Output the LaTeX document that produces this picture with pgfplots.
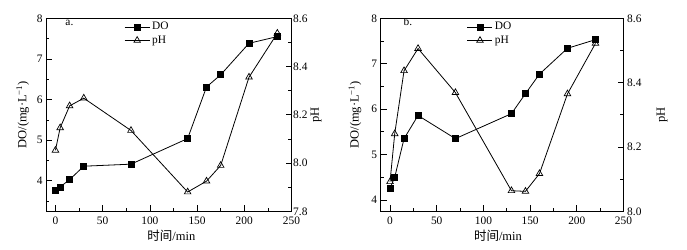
\documentclass[border=0pt]{standalone}
\usepackage{fontspec}
\setmainfont{Liberation Serif}
\newfontfamily\cjk{Noto Sans CJK SC}
\usepackage{pgfplots}
\usepackage{pgfplotstable}
\pgfplotsset{compat=1.18}

\pgfplotstableread{
t v
0 3.755
5 3.85
15 4.03
30 4.36
80 4.41
140 5.04
160 6.31
175 6.61
205 7.385
235 7.55
}\DOa
\pgfplotstableread{
t v
0 8.053
5 8.146
15 8.237
30 8.269
80 8.135
140 7.880
160 7.925
175 7.990
205 8.356
235 8.538
}\pHa
\pgfplotstableread{
t v
0 4.26
5 4.50
15 5.35
30 5.86
70 5.35
130 5.90
145 6.34
160 6.77
190 7.34
220 7.53
}\DOb
\pgfplotstableread{
t v
0 8.092
5 8.241
15 8.437
30 8.506
70 8.369
130 8.064
145 8.062
160 8.117
190 8.365
220 8.522
}\pHb

\newcommand{\fs}{\fontsize{11.4bp}{13bp}\selectfont}
\newcommand{\fl}{\fontsize{12.5bp}{14bp}\selectfont}

\pgfplotsset{
  base/.style={
    scale only axis, height=193bp, anchor=south west,
    xmin=-10, xmax=250,
    tick align=inside, major tick length=6bp, minor tick length=3.5bp,
    every tick/.style={black, line width=0.7pt},
    axis line style={line width=0.9pt},
    tick label style={font=\fs},
    xticklabel style={yshift=-2bp},
    label style={font=\fl},
    /pgf/number format/assume math mode=true,
  },
  dostyle/.style={black, line width=0.8pt, mark=square*, mark size=3bp, mark options={solid, fill=black}},
  phstyle/.style={black, line width=0.8pt, mark=triangle, mark size=3.8bp, mark options={solid, fill=white, line width=0.7pt}},
  legstyle/.style={
    legend cell align=left,
    legend style={draw=none, fill=none, inner sep=0pt, font=\fs, anchor=north west,
      row sep=0.5bp, /tikz/every even column/.append style={column sep=2bp}},
    legend image code/.code={\draw[mark repeat=2,mark phase=2,##1] plot coordinates {(0bp,0bp)(12.5bp,0bp)(25bp,0bp)};},
  },
}

\begin{document}
\begin{tikzpicture}
\useasboundingbox (0,0) rectangle (687bp,250bp);

% ---------- panel a ----------
\begin{axis}[base, width=245.5bp, at={(46bp,38.7bp)},
  ymin=3.25, ymax=8, ytick={4,5,6,7,8}, minor ytick={3.5,4.5,5.5,6.5,7.5},
  xtick={0,50,100,150,200,250}, minor xtick={25,75,125,175,225},
  xtick pos=bottom, ytick pos=left,
  xlabel={{\cjk 时间}/min}, ylabel={DO/(mg·L\textsuperscript{\char"2212 1})},
  xlabel style={at={(axis description cs:0.511,-0.128)}, anchor=center},
  ylabel style={at={(axis description cs:-0.095,0.5)}, anchor=center},
]
\addplot[dostyle] table[x=t,y=v] {\DOa};
\node[anchor=base west, font=\fs] at (axis description cs:0.065,0.962) {a.};
\end{axis}
\begin{axis}[base, legstyle, width=245.5bp, at={(46bp,38.7bp)},
  ymin=7.8, ymax=8.6, ytick={7.8,8.0,8.2,8.4,8.6}, minor ytick={7.9,8.1,8.3,8.5},
  axis y line*=right, axis x line=none,
  yticklabel style={inner xsep=1.5bp, /pgf/number format/.cd, fixed, fixed zerofill, precision=1},
  ylabel={pH},
  ylabel style={at={(axis description cs:1.10,0.5)}, anchor=center},
  legend style={at={(axis description cs:0.318,0.99)}},
]
\addlegendimage{dostyle}\addlegendentry{DO}
\addplot[phstyle] table[x=t,y=v] {\pHa};\addlegendentry{pH}
\end{axis}

% ---------- panel b ----------
\begin{axis}[base, width=242.8bp, at={(380.7bp,38.7bp)},
  ymin=3.75, ymax=8, ytick={4,5,6,7,8}, minor ytick={4.5,5.5,6.5,7.5},
  xtick={0,50,100,150,200,250}, minor xtick={25,75,125,175,225},
  xtick pos=bottom, ytick pos=left,
  xlabel={{\cjk 时间}/min}, ylabel={DO/(mg·L\textsuperscript{\char"2212 1})},
  xlabel style={at={(axis description cs:0.483,-0.128)}, anchor=center},
  ylabel style={at={(axis description cs:-0.106,0.5)}, anchor=center},
]
\addplot[dostyle] table[x=t,y=v] {\DOb};
\node[anchor=base west, font=\fs] at (axis description cs:0.08,0.962) {b.};
\end{axis}
\begin{axis}[base, legstyle, width=242.8bp, at={(380.7bp,38.7bp)},
  ymin=8.0, ymax=8.6, ytick={8.0,8.2,8.4,8.6}, minor ytick={8.1,8.3,8.5},
  axis y line*=right, axis x line=none,
  yticklabel style={inner xsep=3.5bp, /pgf/number format/.cd, fixed, fixed zerofill, precision=1},
  ylabel={pH},
  ylabel style={at={(axis description cs:1.159,0.5)}, anchor=center},
  legend style={at={(axis description cs:0.355,0.99)}},
]
\addlegendimage{dostyle}\addlegendentry{DO}
\addplot[phstyle] table[x=t,y=v] {\pHb};\addlegendentry{pH}
\end{axis}
\end{tikzpicture}
\end{document}
